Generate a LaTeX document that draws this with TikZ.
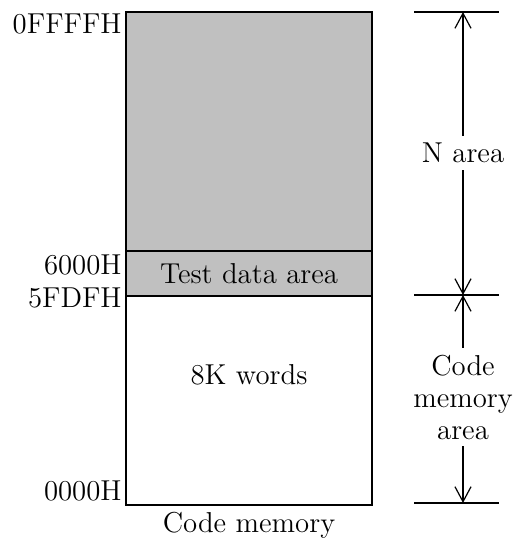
\documentclass[tikz,border=0pt]{standalone}
\usepackage{tikz}
\usetikzlibrary{arrows.meta, positioning}
\definecolor{areagray}{RGB}{192,192,192}
\tikzset{
  memline/.style={line width=0.7pt},
  dimline/.style={line width=0.6pt, -{Straight Barb[length=7.5pt, width=8pt, line width=0.6pt]}},
  addr/.style={anchor=base east, inner sep=0pt},
  lbl/.style={align=center}
}

\begin{document}
\begin{tikzpicture}[x=0.5pt, y=-0.5pt, font=\fontsize{14.4}{16}\selectfont]
      \useasboundingbox (0,0) rectangle (521,542);
      % memory blocks
      \coordinate (top) at (126,12);
      \coordinate (tdtop) at (372,251);
      \coordinate (tdbot) at (126,296);
      \coordinate (bot) at (372,505);
      \fill[areagray] (top) rectangle (tdtop -| bot);
      \fill[areagray] (top |- tdtop) rectangle (tdtop |- tdbot);
      \draw[memline] (top) rectangle (bot);
      \draw[memline] (top |- tdtop) -- (tdtop);
      \draw[memline] (tdbot) -- (bot |- tdbot);
      % addresses
      \node[addr] (a0) at (122,33) {0FFFFH};
      \node[addr] (a1) at (122,274) {6000H};
      \node[addr] (a2) at (122,307) {5FDFH};
      \node[addr] (a3) at (122,500) {0000H};
      % area texts
      \node (td) at (249,274) {Test data area};
      \node (kw) at (249,375) {8K words};
      \node[anchor=base] (cm) at (249,532) {Code memory};
      % dimensions
      \coordinate (t0) at (414,12);  \coordinate (t0e) at (499,12);
      \coordinate (t1) at (414,295); \coordinate (t1e) at (499,295);
      \coordinate (t2) at (414,503); \coordinate (t2e) at (499,503);
      \draw[memline] (t0) -- (t0e);
      \draw[memline] (t1) -- (t1e);
      \draw[memline] (t2) -- (t2e);
      \node (na) at (463,153) {N area};
      \node[lbl] (ca) at (463,397) {Code\\memory\\area};
      \draw[dimline] (na.north) -- (na.north |- t0);
      \draw[dimline] (na.south) -- (na.south |- t1);
      \draw[dimline] (ca.north) -- (ca.north |- t1);
      \draw[dimline] (ca.south) -- (ca.south |- t2);
    \end{tikzpicture}
\end{document}
